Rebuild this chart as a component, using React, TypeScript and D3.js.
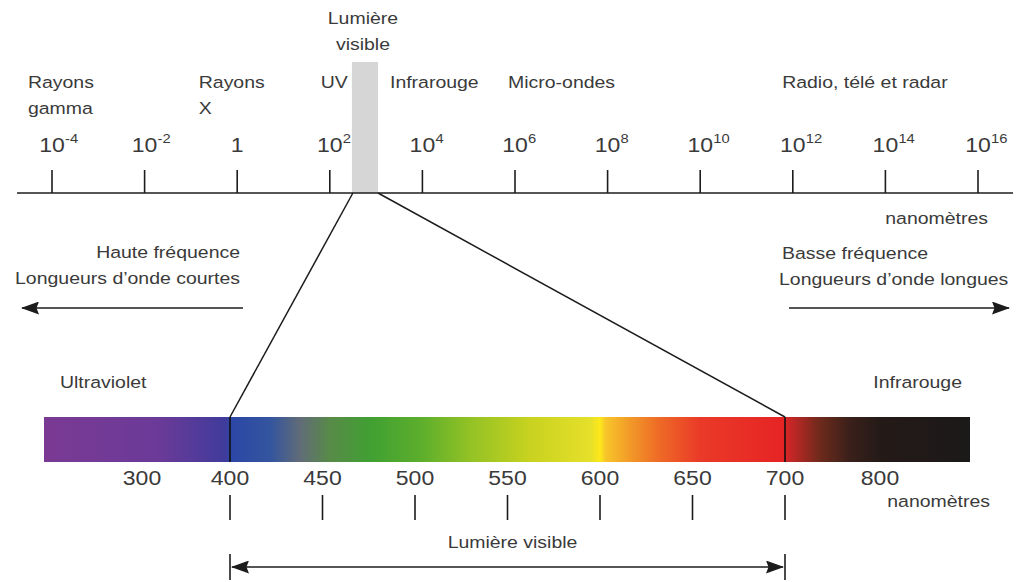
import React from 'react';
import * as d3 from 'd3';

// top axis: wavelength in nm, log scale, one tick every 2 decades
const AXIS_EXPONENTS = [-4, -2, 0, 2, 4, 6, 8, 10, 12, 14, 16];
const VISIBLE_BAND_NM = [300, 1100];
const BAND_LABELS = [
  ['Rayons', 'gamma'],
  ['Rayons', 'X'],
  ['UV'],
  ['Infrarouge'],
  ['Micro-ondes'],
  ['Radio, télé et radar'],
];

// bottom: zoom on the visible part
const WAVE_LABELS = [300, 400, 450, 500, 550, 600, 650, 700, 800];
const WAVE_TICKS = [400, 450, 500, 550, 600, 650, 700];
const VISIBLE_NM = [400, 700];
const SPECTRUM_NM = [200, 320, 394, 401, 422, 438, 454, 476, 503, 530, 562, 595, 600, 603, 616, 632, 654, 699, 705, 737, 768, 800, 900];
const SPECTRUM_COLORS = [
  '#7a3a94', '#6b3a98', '#403b9b', '#2c47a6', '#34559e', '#616c78', '#588a48', '#40a032',
  '#5cae2c', '#93c225', '#c8d21f', '#e6e02a', '#fde81a', '#f7c62a', '#f29a28', '#ee6a26',
  '#ea3a28', '#e62424', '#c82626', '#6e2a1c', '#3a201a', '#241a18', '#1b1919',
];

const W = 1016;
const H = 582;
const SX = 1.18; // the source lettering is wide
const INK = '#1c1c1c';
const TXT = '#3a3a3a';
const FONT = '"Liberation Sans", Arial, Helvetica, sans-serif';

const Label = ({ x, y, anchor = 'start', size = 16.5, children }: any) => (
  <text
    transform={`translate(${x},${y}) scale(${SX},1)`}
    textAnchor={anchor}
    fontSize={size}
    fill={TXT}
    fontFamily={FONT}
  >
    {children}
  </text>
);

const App: React.FC = () => {
  const x = d3.scaleLog().domain([1e-4, 1e16]).range([52, 978]);
  const axisY = 193;

  const nm = d3.scaleLinear()
    .domain([200, 300, 400, 700, 800, 900])
    .range([44, 142, 230, 785, 880, 970]);
  const barTop = 417;
  const barBot = 462;

  // where each band name starts (exponent), and its anchor
  const bandPos: [number, string][] = [
    [-4.52, 'start'], [-0.83, 'start'], [2.39, 'end'], [3.3, 'start'], [5.85, 'start'], [11.77, 'start'],
  ];

  const stops = SPECTRUM_NM.map((v, i) => ({ v, c: SPECTRUM_COLORS[i] }));
  const x0 = nm(200);
  const x1 = nm(900);

  return (
    <svg width={W} height={H} style={{ position: 'absolute', left: 0, top: 0, background: '#fff' }}>
      <defs>
        <linearGradient id="spec" gradientUnits="userSpaceOnUse" x1={x0} x2={x1} y1={0} y2={0}>
          {stops.map((s, i) => (
            <stop key={i} offset={(nm(s.v) - x0) / (x1 - x0)} stopColor={s.c} />
          ))}
        </linearGradient>
        <marker id="arr" viewBox="0 0 18 13" refX={17} refY={6.5} markerWidth={18} markerHeight={13}
          markerUnits="userSpaceOnUse" orient="auto-start-reverse">
          <path d="M0,0 L18,6.5 L0,13 L2.5,6.5 Z" fill={INK} />
        </marker>
      </defs>

      {/* Lumière visible, top */}
      <Label x={(x(VISIBLE_BAND_NM[0]) + x(VISIBLE_BAND_NM[1])) / 2 - 2} y={24} anchor="middle">Lumière</Label>
      <Label x={(x(VISIBLE_BAND_NM[0]) + x(VISIBLE_BAND_NM[1])) / 2 - 2} y={50} anchor="middle">visible</Label>

      {/* grey band */}
      <rect x={x(VISIBLE_BAND_NM[0])} y={62} width={x(VISIBLE_BAND_NM[1]) - x(VISIBLE_BAND_NM[0])}
        height={axisY - 62} fill="#d6d6d6" />

      {/* band names */}
      {BAND_LABELS.map((lines, i) =>
        lines.map((t, j) => (
          <Label key={i + '-' + j} x={x(Math.pow(10, bandPos[i][0]))} y={88 + j * 26} anchor={bandPos[i][1]}>{t}</Label>
        ))
      )}

      {/* tick labels */}
      {AXIS_EXPONENTS.map(e => {
        const tx = x(Math.pow(10, e));
        if (e === 0) return <Label key={e} x={tx} y={152} anchor="middle" size={19.5}>1</Label>;
        return (
          <g key={e}>
            <Label x={tx} y={152} anchor="middle" size={19.5}>10</Label>
            <Label x={tx + 13} y={143} size={12.5}>{String(e)}</Label>
          </g>
        );
      })}

      {/* axis */}
      <line x1={17} x2={1013} y1={axisY} y2={axisY} stroke={INK} strokeWidth={1.5} />
      {AXIS_EXPONENTS.map(e => (
        <line key={e} x1={x(Math.pow(10, e))} x2={x(Math.pow(10, e))} y1={170} y2={axisY}
          stroke={INK} strokeWidth={1.6} />
      ))}
      <Label x={988} y={224} anchor="end">nanomètres</Label>

      {/* frequency arrows */}
      <Label x={240} y={258} anchor="end">Haute fréquence</Label>
      <Label x={240} y={284} anchor="end">Longueurs d’onde courtes</Label>
      <line x1={243} x2={22} y1={308} y2={308} stroke={INK} strokeWidth={1.4} markerEnd="url(#arr)" />
      <Label x={782} y={259} >Basse fréquence</Label>
      <Label x={779} y={285} >Longueurs d’onde longues</Label>
      <line x1={789} x2={1009} y1={308} y2={308} stroke={INK} strokeWidth={1.4} markerEnd="url(#arr)" />

      {/* zoom lines */}
      <line x1={x(VISIBLE_BAND_NM[0]) + 1} y1={axisY} x2={nm(VISIBLE_NM[0])} y2={barTop} stroke={INK} strokeWidth={1.5} />
      <line x1={x(VISIBLE_BAND_NM[1])} y1={axisY} x2={nm(VISIBLE_NM[1])} y2={barTop} stroke={INK} strokeWidth={1.5} />

      <Label x={60} y={388}>Ultraviolet</Label>
      <Label x={962} y={388} anchor="end">Infrarouge</Label>

      {/* spectrum */}
      <rect x={x0} y={barTop} width={x1 - x0} height={barBot - barTop} fill="url(#spec)" />
      {VISIBLE_NM.map(v => (
        <line key={v} x1={nm(v)} x2={nm(v)} y1={barTop} y2={barBot} stroke="#111" strokeWidth={1.6} />
      ))}

      {WAVE_LABELS.map(v => (
        <Label key={v} x={nm(v)} y={485} anchor="middle" size={19.5}>{v}</Label>
      ))}
      {WAVE_TICKS.map(v => (
        <line key={v} x1={nm(v)} x2={nm(v)} y1={495} y2={520} stroke={INK} strokeWidth={1.6} />
      ))}
      <Label x={990} y={507} anchor="end">nanomètres</Label>

      {/* visible range */}
      <Label x={(nm(VISIBLE_NM[0]) + nm(VISIBLE_NM[1])) / 2 + 5} y={548} anchor="middle">Lumière visible</Label>
      {VISIBLE_NM.map(v => (
        <line key={v} x1={nm(v)} x2={nm(v)} y1={554} y2={580} stroke={INK} strokeWidth={1.6} />
      ))}
      <line x1={nm(VISIBLE_NM[0]) + 2} x2={nm(VISIBLE_NM[1]) - 2} y1={567} y2={567} stroke={INK} strokeWidth={1.4}
        markerStart="url(#arr)" markerEnd="url(#arr)" />
    </svg>
  );
};

export default App;
